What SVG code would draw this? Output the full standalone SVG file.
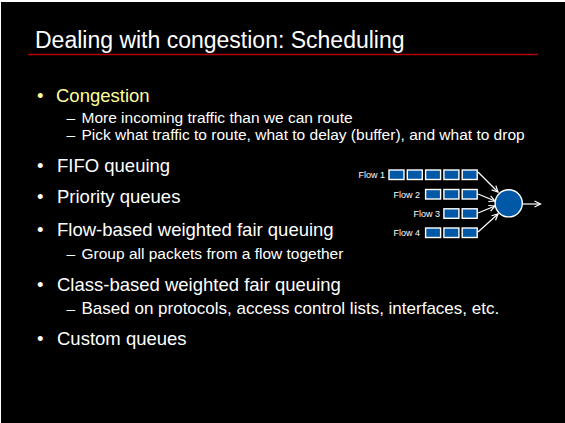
<svg xmlns="http://www.w3.org/2000/svg" width="565" height="423" viewBox="0 0 565 423">
  <defs>
    <style>
      .t { font-family: "Liberation Sans", Arial, sans-serif; fill: #ffffff; }
      .title { font-size: 23px; }
      .l1 { font-size: 18.5px; }
      .l2 { font-size: 15.5px; }
      .l2b { font-size: 17px; }
      .hl { fill: #ffff99; }
      .fl { font-size: 9px; text-anchor: end; }
      .pkt { fill: #0058a6; stroke: #ffffff; stroke-width: 1.4; }
      .conn { stroke: #ffffff; stroke-width: 1.2; fill: none; marker-end: url(#arr); }
    </style>
    <marker id="arr" markerUnits="userSpaceOnUse" markerWidth="10" markerHeight="10" refX="7" refY="4" orient="auto">
      <path d="M1,1 L7,4 L1,7" fill="none" stroke="#ffffff" stroke-width="1.2"/>
    </marker>
  </defs>
  <rect x="0" y="0" width="565" height="423" fill="#ffffff"/>
  <rect x="1" y="2" width="564" height="421" fill="#000000"/>

  <g id="title">
    <text class="t title" x="35" y="48">Dealing with congestion: Scheduling</text>
    <line x1="28" y1="54.5" x2="538" y2="54.5" stroke="#b40000" stroke-width="1.6"/>
  </g>

  <g id="bullets">
    <text class="t l1 hl" x="37" y="102">•</text>
    <text class="t l1 hl" x="56" y="102">Congestion</text>
    <text class="t l2" x="66.5" y="122.5">–</text>
    <text class="t l2" x="81.5" y="122.5">More incoming traffic than we can route</text>
    <text class="t l2" x="66.5" y="140">–</text>
    <text class="t l2" x="81.5" y="140">Pick what traffic to route, what to delay (buffer), and what to drop</text>
    <text class="t l1" x="37" y="172">•</text>
    <text class="t l1" x="57" y="172">FIFO queuing</text>
    <text class="t l1" x="37" y="203">•</text>
    <text class="t l1" x="57" y="203">Priority queues</text>
    <text class="t l1" x="37" y="235.5">•</text>
    <text class="t l1" x="57" y="235.5">Flow-based weighted fair queuing</text>
    <text class="t l2" x="66.5" y="258.5">–</text>
    <text class="t l2" x="81.5" y="258.5">Group all packets from a flow together</text>
    <text class="t l1" x="37" y="291">•</text>
    <text class="t l1" x="57" y="291">Class-based weighted fair queuing</text>
    <text class="t l2" x="66.5" y="314">–</text>
    <text class="t l2b" x="81.5" y="314">Based on protocols, access control lists, interfaces, etc.</text>
    <text class="t l1" x="37" y="345">•</text>
    <text class="t l1" x="57" y="345">Custom queues</text>
  </g>

  <g id="flow1">
    <text class="t fl" x="385" y="178">Flow 1</text>
    <rect class="pkt" x="389" y="170" width="15" height="9.5"/>
    <rect class="pkt" x="407.3" y="170" width="15" height="9.5"/>
    <rect class="pkt" x="425.6" y="170" width="15" height="9.5"/>
    <rect class="pkt" x="443.9" y="170" width="15" height="9.5"/>
    <rect class="pkt" x="462.2" y="170" width="15" height="9.5"/>
  </g>
  <g id="flow2">
    <text class="t fl" x="420" y="197.5">Flow 2</text>
    <rect class="pkt" x="425.6" y="189.5" width="15" height="9.5"/>
    <rect class="pkt" x="443.9" y="189.5" width="15" height="9.5"/>
    <rect class="pkt" x="462.2" y="189.5" width="15" height="9.5"/>
  </g>
  <g id="flow3">
    <text class="t fl" x="440" y="216.5">Flow 3</text>
    <rect class="pkt" x="443.9" y="208.8" width="15" height="9.5"/>
    <rect class="pkt" x="462.2" y="208.8" width="15" height="9.5"/>
  </g>
  <g id="flow4">
    <text class="t fl" x="420" y="235.8">Flow 4</text>
    <rect class="pkt" x="425.6" y="228" width="15" height="9.5"/>
    <rect class="pkt" x="443.9" y="228" width="15" height="9.5"/>
    <rect class="pkt" x="462.2" y="228" width="15" height="9.5"/>
  </g>
  <g id="scheduler">
    <circle cx="508.7" cy="203.3" r="13.6" fill="#0058a6" stroke="#ffffff" stroke-width="1.4"/>
  </g>

  <g id="connectors">
    <line class="conn" x1="478" y1="172" x2="498" y2="192"/>
    <line class="conn" x1="478" y1="194" x2="495" y2="201"/>
    <line class="conn" x1="478" y1="213" x2="495" y2="206"/>
    <line class="conn" x1="478" y1="232" x2="498" y2="214"/>
    <line class="conn" x1="522.5" y1="204" x2="540.5" y2="204"/>
  </g>
</svg>
